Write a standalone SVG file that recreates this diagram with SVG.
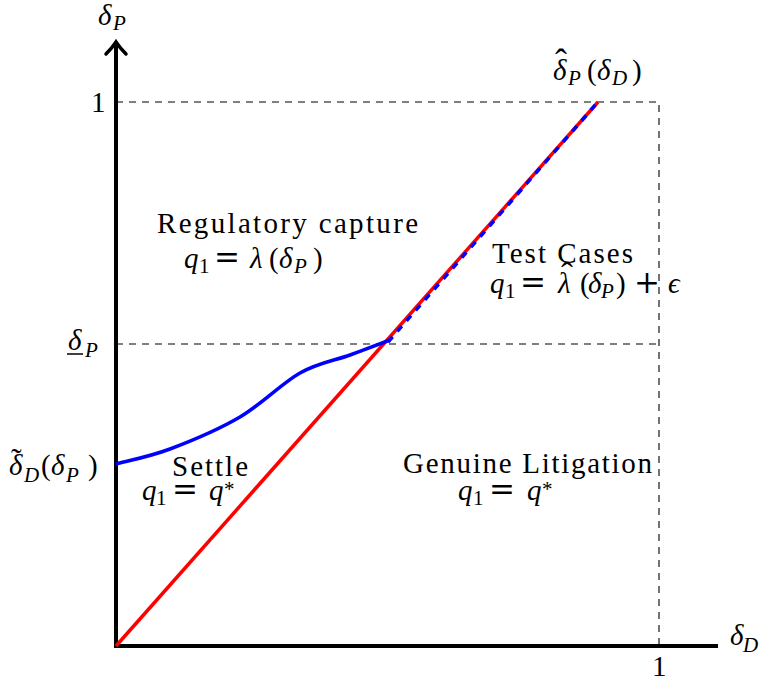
<svg xmlns="http://www.w3.org/2000/svg" width="766" height="681" viewBox="0 0 766 681">
<style>
.t{font-family:"Liberation Serif","Times New Roman",serif;font-size:29px;fill:#000}
.i{font-style:italic}
.s{font-size:21px}
.eq{font-family:"DejaVu Serif",serif;font-size:31px;font-style:normal}
.acc{font-size:36px;font-style:normal}
.guide{stroke:#000;stroke-width:1.1;stroke-dasharray:7 6;fill:none}
.axis{stroke:#000;stroke-width:4;fill:none}
</style>
<rect width="766" height="681" fill="#fff"/>
<g id="guides">
<path class="guide" d="M116,102 H659 V646"/>
<path class="guide" d="M116,344 H659"/>
</g>
<g id="connectors">
<path class="axis" d="M114,646 H718"/>
<path class="axis" d="M116,648 V44"/>
<path d="M106,54 Q112,48 116,42 Q120,48 126,54" stroke="#000" stroke-width="3.5" fill="none" stroke-linecap="round"/>
<path id="red-line" d="M116,646 L598,102" stroke="#ff0000" stroke-width="3.5" fill="none"/>
<path id="blue-curve" d="M116,464 C125,461.5 149.3,456.8 170,449 C190.7,441.2 218.3,429.7 240,417 C261.7,404.3 281.7,383.3 300,373 C318.3,362.7 335,360.5 350,355 C365,349.5 383.3,342.5 390,340" stroke="#0000ff" stroke-width="3.5" fill="none"/>
<path id="blue-dashed" d="M388,342 L598,102" stroke="#0000ff" stroke-width="3.5" fill="none" stroke-dasharray="7 7"/>
</g>
<g id="label-yaxis">
<text class="t"><tspan class="i" x="98" y="25">δ</tspan><tspan class="i s" x="113" y="30">P</tspan></text>
</g>
<g id="label-xaxis">
<text class="t"><tspan class="i" x="730" y="645">δ</tspan><tspan class="i s" x="743" y="652">D</tspan></text>
</g>
<g id="tick-y1"><text class="t" x="91" y="112">1</text></g>
<g id="tick-x1"><text class="t" x="652" y="676">1</text></g>
<g id="tick-deltaP">
<text class="t"><tspan class="i" x="68" y="350">δ</tspan><tspan class="i s" x="85" y="357">P</tspan></text>
<line x1="67" y1="354" x2="83" y2="354" stroke="#000" stroke-width="1.5"/>
</g>
<g id="tick-deltaD">
<text class="t acc" x="11" y="470" style="font-size:32px">˜</text>
<text class="t"><tspan class="i" x="9" y="475">δ</tspan><tspan class="i s" x="24" y="482">D</tspan><tspan x="41" y="475">(</tspan><tspan class="i" x="51" y="475">δ</tspan><tspan class="i s" x="66" y="482">P</tspan><tspan x="88" y="475">)</tspan></text>
</g>
<g id="label-hatP">
<text class="t acc" x="555" y="74">ˆ</text>
<text class="t"><tspan class="i" x="553" y="80">δ</tspan><tspan class="i s" x="568" y="85">P</tspan><tspan x="587" y="80">(</tspan><tspan class="i" x="597" y="80">δ</tspan><tspan class="i s" x="612" y="85">D</tspan><tspan x="632" y="80">)</tspan></text>
</g>
<g id="region-capture">
<text class="t" x="157" y="233" textLength="261">Regulatory capture</text>
<text class="t"><tspan class="i" x="184" y="268">q</tspan><tspan class="s" x="199" y="273">1</tspan><tspan class="eq" x="214" y="268">=</tspan><tspan class="i" x="250" y="268">λ</tspan><tspan x="269" y="268">(</tspan><tspan class="i" x="279" y="268">δ</tspan><tspan class="i s" x="294" y="273">P</tspan><tspan x="313" y="268">)</tspan></text>
</g>
<g id="region-test">
<text class="t" x="492" y="263" textLength="141">Test Cases</text>
<text class="t acc" x="561" y="287">ˆ</text>
<text class="t"><tspan class="i" x="490" y="293">q</tspan><tspan class="s" x="505" y="298">1</tspan><tspan class="eq" x="520" y="293">=</tspan><tspan class="i" x="558" y="293">λ</tspan><tspan x="580" y="293">(</tspan><tspan class="i" x="588" y="293">δ</tspan><tspan class="i s" x="601" y="298">P</tspan><tspan x="616" y="293">)</tspan><tspan class="eq" x="634" y="293">+</tspan><tspan class="i" x="668" y="293">ϵ</tspan></text>
</g>
<g id="region-settle">
<text class="t" x="172" y="476" textLength="76">Settle</text>
<text class="t"><tspan class="i" x="142" y="500">q</tspan><tspan class="s" x="156" y="505">1</tspan><tspan class="eq" x="172" y="500">=</tspan><tspan class="i" x="209" y="500">q</tspan><tspan class="s" x="224" y="496">*</tspan></text>
</g>
<g id="region-genuine">
<text class="t" x="403" y="473" textLength="249">Genuine Litigation</text>
<text class="t"><tspan class="i" x="458" y="500">q</tspan><tspan class="s" x="473" y="505">1</tspan><tspan class="eq" x="489" y="500">=</tspan><tspan class="i" x="527" y="500">q</tspan><tspan class="s" x="542" y="496">*</tspan></text>
</g>
</svg>
